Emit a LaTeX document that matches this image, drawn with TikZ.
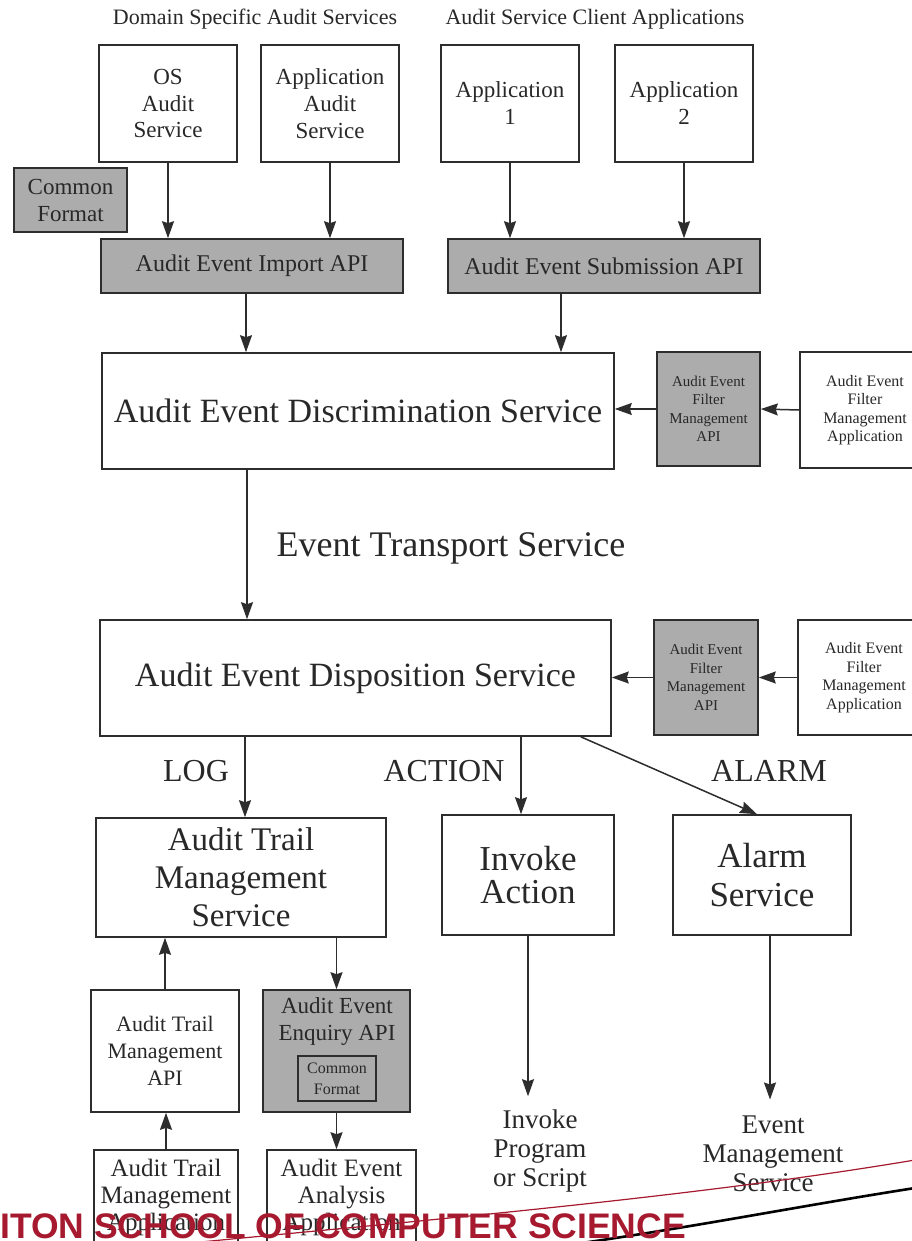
\documentclass[tikz,border=0pt]{standalone}
\usepackage{fontspec}
\setmainfont{Liberation Serif}
\newfontfamily\bannerfont{Liberation Sans}
\usetikzlibrary{arrows.meta, positioning, calc}
\definecolor{ApiGrey}{RGB}{172,172,172}
\definecolor{BoxLine}{RGB}{45,45,45}
\definecolor{TextGrey}{RGB}{40,40,40}
\definecolor{BannerRed}{RGB}{166,25,46}

\tikzset{
  box/.style={draw=BoxLine, line width=1.6pt, fill=white, align=center, inner sep=0pt, text=TextGrey},
  apibox/.style={box, fill=ApiGrey},
  flow/.style={draw=BoxLine, line width=1.5pt, -{Stealth[length=17pt, width=12pt, inset=2pt]}},
  fsmall/.style={font=\fontsize{15}{18.5}\selectfont},
  fmid/.style={font=\fontsize{23}{27}\selectfont},
  flow2/.style={font=\fontsize{27}{29}\selectfont},
  fbig/.style={font=\fontsize{34}{38}\selectfont},
}

\begin{document}
\begin{tikzpicture}[x=1pt, y=-1pt]
\useasboundingbox (0,0) rectangle (912,1241);
\clip (0,0) rectangle (912,1241);
\fill[white] (0,0) rectangle (912,1241);

% titulos
\node[font=\fontsize{22}{24}\selectfont, text=TextGrey] (domtitle) at (255,19) {Domain Specific Audit Services};
\node[font=\fontsize{22}{24}\selectfont, text=TextGrey] (clititle) at (595,19) {Audit Service Client Applications};

% servicios y aplicaciones de arriba
\node[box, fmid, minimum width=138, minimum height=117] (osaudit) at (168,103.5) {OS\\Audit\\Service};
\node[box, fmid, minimum width=138, minimum height=117] (appaudit) at (330,103.5) {Application\\Audit\\Service};
\node[box, fmid, minimum width=138, minimum height=117] (app1) at (510,103.5) {Application\\1};
\node[box, fmid, minimum width=138, minimum height=117] (app2) at (684,103.5) {Application\\2};
\node[apibox, fmid, minimum width=113, minimum height=64] (common) at (70.5,200) {Common\\Format};
\node[apibox, font=\fontsize{24}{27}\selectfont, minimum width=302, minimum height=54] (importapi) at (252,266) {Audit Event Import API};
\node[apibox, font=\fontsize{24}{27}\selectfont, minimum width=312, minimum height=54] (submitapi) at (604,266) {Audit Event Submission API};

\draw[flow] (osaudit.south) -- (osaudit.south |- importapi.north);
\draw[flow] (appaudit.south) -- (appaudit.south |- importapi.north);
\draw[flow] (app1.south) -- (app1.south |- submitapi.north);
\draw[flow] (app2.south) -- (app2.south |- submitapi.north);

% discriminacion
\node[box, fbig, minimum width=512, minimum height=116] (discrim) at (358,411) {Audit Event Discrimination Service};
\node[apibox, fsmall, minimum width=103, minimum height=114] (filterapiA) at (708.5,409) {Audit Event\\Filter\\Management\\API};
\node[box, font=\fontsize{16}{18.5}\selectfont, minimum width=130, minimum height=116] (filterappA) at (865,410) {Audit Event\\Filter\\Management\\Application};
\draw[flow] (filterappA.west) -- (filterapiA.east);
\draw[flow] (filterapiA.west) -- (filterapiA.west -| discrim.east);
\draw[flow] ([xshift=-6pt]importapi.south) -- ([xshift=-6pt]importapi.south |- discrim.north);
\draw[flow] ([xshift=-43pt]submitapi.south) -- ([xshift=-43pt]submitapi.south |- discrim.north);

\node[font=\fontsize{36}{40}\selectfont, text=TextGrey] (transport) at (451,548) {Event Transport Service};

% disposicion
\node[box, fbig, minimum width=511, minimum height=116] (dispos) at (355.5,678) {Audit Event Disposition Service};
\node[apibox, fsmall, minimum width=104, minimum height=115] (filterapiB) at (706,677.5) {Audit Event\\Filter\\Management\\API};
\node[box, font=\fontsize{16}{18.5}\selectfont, minimum width=132, minimum height=115] (filterappB) at (864,677.5) {Audit Event\\Filter\\Management\\Application};
\draw[flow] (filterappB.west) -- (filterapiB.east);
\draw[flow] (filterapiB.west) -- (filterapiB.west -| dispos.east);
\draw[flow] ([xshift=-111pt]discrim.south) -- ([xshift=-111pt]discrim.south |- dispos.north);

\node[font=\fontsize{32}{36}\selectfont, text=TextGrey] (loglbl) at (196,771) {LOG};
\node[font=\fontsize{32}{36}\selectfont, text=TextGrey] (actlbl) at (444,771) {ACTION};
\node[font=\fontsize{32}{36}\selectfont, text=TextGrey] (alarmlbl) at (769,771) {ALARM};

% destinos
\node[box, font=\fontsize{33}{38}\selectfont, minimum width=290, minimum height=119] (trailsvc) at (241,877.5) {Audit Trail\\Management\\Service};
\node[box, font=\fontsize{35}{33}\selectfont, minimum width=172, minimum height=120] (invoke) at (528,875) {Invoke\\Action};
\node[box, font=\fontsize{35}{39}\selectfont, minimum width=178, minimum height=120] (alarmsvc) at (762,875) {Alarm\\Service};
\draw[flow] ([xshift=4pt]trailsvc.north |- dispos.south) -- ([xshift=4pt]trailsvc.north);
\draw[flow] ([xshift=-7pt]invoke.north |- dispos.south) -- ([xshift=-7pt]invoke.north);
\draw[flow] ([xshift=-31pt]dispos.south east) -- ([xshift=-5pt]alarmsvc.north);

% API y aplicaciones de la traza
\node[box, font=\fontsize{22}{27}\selectfont, minimum width=148, minimum height=122] (trailapi) at (165,1051) {Audit Trail\\Management\\API};
\node[apibox, minimum width=147, minimum height=122] (enquiry) at (336.5,1051) {};
\node[fmid, text=TextGrey, align=center] (enquirytxt) at (337,1021) {Audit Event\\Enquiry API};
\node[apibox, line width=1.2pt, font=\fontsize{16}{21}\selectfont, minimum width=78, minimum height=45] (innerfmt) at (337,1078.5) {Common\\Format};
\draw[flow] (trailapi.north) -- (trailapi.north |- trailsvc.south);
\draw[flow] (enquiry.north |- trailsvc.south) -- (enquiry.north);

\node[box, font=\fontsize{25}{27}\selectfont, minimum width=144, minimum height=95] (trailapp) at (166,1197.5) {Audit Trail\\Management\\Application};
\node[box, font=\fontsize{25}{27}\selectfont, minimum width=149, minimum height=95] (analysisapp) at (341.5,1197.5) {Audit Event\\Analysis\\Application};
\draw[flow] (trailapp.north) -- (trailapp.north |- trailapi.south);
\draw[flow] (enquiry.south) -- (enquiry.south |- analysisapp.north);

% salidas
\node[flow2, text=TextGrey, align=center] (progtxt) at (540,1151) {Invoke\\Program\\or Script};
\node[flow2, text=TextGrey, align=center] (evmgmt) at (773,1154) {Event\\Management\\Service};
\draw[flow] (invoke.south) -- ([yshift=10pt]invoke.south |- progtxt.north);
\draw[flow] ([xshift=8pt]alarmsvc.south) -- ([xshift=8pt, yshift=13pt]alarmsvc.south |- evmgmt.north);

% banda de la diapositiva
\draw[BannerRed, line width=1.2pt] (190,1243) .. controls (450,1218) and (700,1196) .. (915,1160);
\draw[black, line width=2.6pt] (575,1244) .. controls (700,1226) and (800,1206) .. (915,1188);
\node[font=\bannerfont\bfseries\fontsize{35.5}{38}\selectfont, text=BannerRed, anchor=base west, inner sep=0pt] (banner) at (0,1238) {ITON SCHOOL OF COMPUTER SCIENCE};

\end{tikzpicture}
\end{document}
